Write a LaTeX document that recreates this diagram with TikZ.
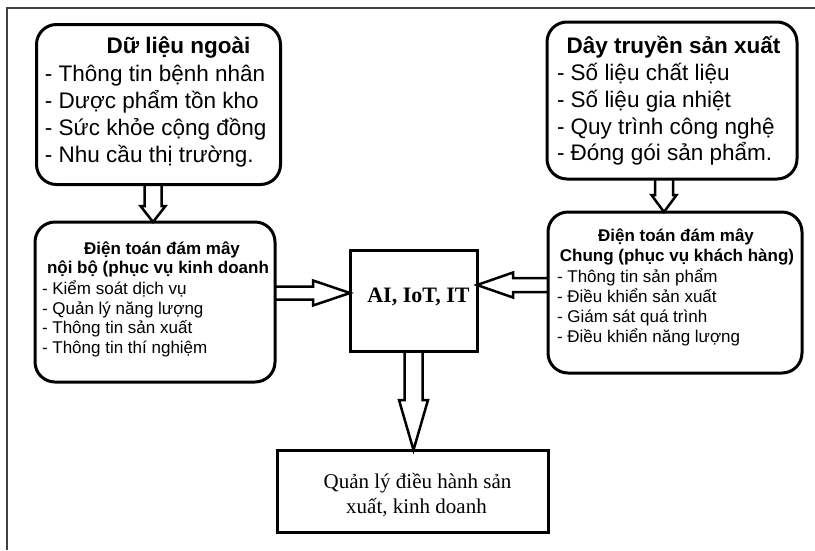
\documentclass[tikz,border=0pt]{standalone}
\usepackage{fontspec}
\setmainfont{Liberation Serif}
\newfontfamily\arialf{Liberation Sans}
\usetikzlibrary{calc}
\tikzset{
  rbox/.style={draw, line width=3pt, rounded corners=20pt, outer sep=0pt, inner sep=0pt},
  sbox/.style={draw, line width=3pt, outer sep=0pt, inner sep=0pt},
  bigtxt/.style={inner sep=0pt, outer sep=0pt, anchor=base west, font=\arialf\fontsize{22.5}{27}\selectfont},
  bigttl/.style={inner sep=0pt, outer sep=0pt, anchor=base, font=\arialf\bfseries\fontsize{22.5}{27}\selectfont},
  smtxt/.style={inner sep=0pt, outer sep=0pt, anchor=base west, font=\arialf\fontsize{17}{20}\selectfont},
  smttl/.style={inner sep=0pt, outer sep=0pt, anchor=base, font=\arialf\bfseries\fontsize{17}{20}\selectfont},
  sertxt/.style={inner sep=0pt, outer sep=0pt, anchor=base, font=\fontsize{21}{25}\selectfont},
  blockarrow/.style={draw, line width=2.5pt, line join=miter},
  frameline/.style={draw, line width=1.5pt, black!75}
}
\newcommand\blockarr[5]{%
  \coordinate (ba-h) at ($(#2)!#5!(#1)$);
  \draw[blockarrow] ($(#1)!#3!90:(#2)$) -- ($(ba-h)!#3!90:(#2)$) -- ($(ba-h)!#4!90:(#2)$) -- (#2)
     -- ($(ba-h)!#4!-90:(#2)$) -- ($(ba-h)!#3!-90:(#2)$) -- ($(#1)!#3!-90:(#2)$);
}
\begin{document}
\begin{tikzpicture}[x=1pt,y=-1pt]
\useasboundingbox (0,0) rectangle (815,550);
\draw[frameline] (7,550) -- (7,8) -- (815,8);

% boxes
\node[rbox, minimum width=244, minimum height=160] (dl) at (158.5,104.5) {};
\node[rbox, minimum width=250, minimum height=157] (dr) at (672,100.5) {};
\node[rbox, minimum width=240, minimum height=160] (ml) at (155,302) {};
\node[rbox, minimum width=254, minimum height=161] (mr) at (675,292.5) {};
\node[sbox, minimum width=127, minimum height=101] (ai) at (413.5,300.5) {};
\node[sbox, minimum width=271, minimum height=82] (qb) at (412.5,491) {};

% arrows
\coordinate (a1s) at ($(dl.south)+(-5.5,0)$);
\coordinate (a1e) at (a1s |- ml.north);
\blockarr{a1s}{a1e}{8.5pt}{12.5pt}{16pt}
\coordinate (a2s) at ($(dr.south)+(-8,0)$);
\coordinate (a2e) at (a2s |- mr.north);
\blockarr{a2s}{a2e}{9pt}{12.5pt}{17pt}
\coordinate (a3s) at ($(ml.east)+(0,-9)$);
\coordinate (a3e) at (a3s -| ai.west);
\blockarr{a3s}{a3e}{6.5pt}{12.5pt}{37pt}
\coordinate (a4s) at ($(mr.west)+(0,-7.5)$);
\coordinate (a4e) at (a4s -| ai.east);
\blockarr{a4s}{a4e}{7pt}{12.5pt}{36pt}
\coordinate (a5s) at (ai.south);
\coordinate (a5e) at (a5s |- qb.north);
\blockarr{a5s}{a5e}{9pt}{14.5pt}{50pt}

% texts top-left
\node[bigttl] (t1) at (178.5,53) {Dữ liệu ngoài};
\node[bigtxt] (t1a) at (45,81) {- Thông tin bệnh nhân};
\node[bigtxt] (t1b) at (45,108) {- Dược phẩm tồn kho};
\node[bigtxt] (t1c) at (45,135) {- Sức khỏe cộng đồng};
\node[bigtxt] (t1d) at (45,162) {- Nhu cầu thị trường.};

% texts top-right
\node[bigttl] (t2) at (673.5,53) {Dây truyền sản xuất};
\node[bigtxt] (t2a) at (557,80) {- Số liệu chất liệu};
\node[bigtxt] (t2b) at (557,107) {- Số liệu gia nhiệt};
\node[bigtxt] (t2c) at (557,134) {- Quy trình công nghệ};
\node[bigtxt] (t2d) at (557,160) {- Đóng gói sản phẩm.};

% texts middle-left
\node[smttl] (t3) at (162,254) {Điện toán đám mây};
\node[smttl, anchor=base west] (t3l) at (47,273) {nội bộ (phục vụ kinh doanh};
\node[smtxt] (t3a) at (42,294) {- Kiểm soát dịch vụ};
\node[smtxt] (t3b) at (42,314) {- Quản lý năng lượng};
\node[smtxt] (t3c) at (42,333) {- Thông tin sản xuất};
\node[smtxt] (t3d) at (42,353) {- Thông tin thí nghiệm};

% texts middle-right
\node[smttl] (t4) at (676,241) {Điện toán đám mây};
\node[smttl] (t4l) at (677,261) {Chung (phục vụ khách hàng)};
\node[smtxt] (t4a) at (557,282) {- Thông tin sản phẩm};
\node[smtxt] (t4b) at (557,302) {- Điều khiển sản xuất};
\node[smtxt] (t4c) at (557,322) {- Giám sát quá trình};
\node[smtxt] (t4d) at (557,342) {- Điều khiển năng lượng};

% center and bottom
\node[sertxt, font=\bfseries\fontsize{22}{26}\selectfont] (t5) at (418.5,302) {AI, IoT, IT};
\node[sertxt] (t6a) at (417.5,488) {Quản lý điều hành sản};
\node[sertxt] (t6b) at (416.5,513) {xuất, kinh doanh};
\end{tikzpicture}
\end{document}
